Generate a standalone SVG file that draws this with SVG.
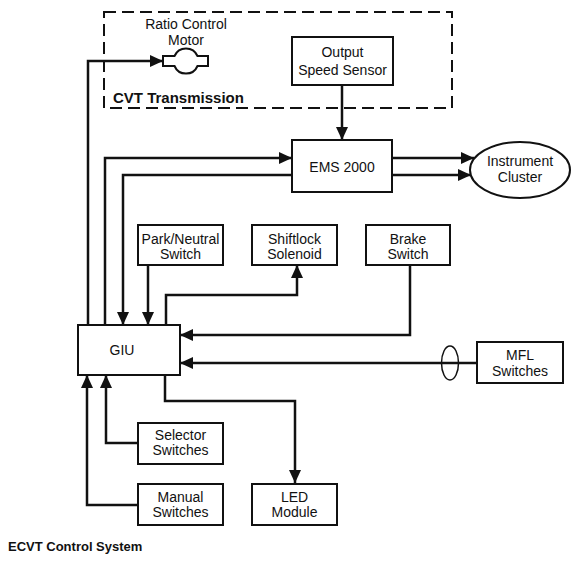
<svg xmlns="http://www.w3.org/2000/svg" width="580" height="563" viewBox="0 0 580 563">
<defs>
<marker id="ah" markerUnits="userSpaceOnUse" markerWidth="13" markerHeight="12" refX="13" refY="6" orient="auto">
<path d="M0,0 L13,6 L0,12 z" fill="#111"/>
</marker>
<style>
.box{fill:#fff;stroke:#111;stroke-width:2}
.t{font-family:"Liberation Sans",Arial,sans-serif;font-size:14px;fill:#111;text-anchor:middle}
.b{font-family:"Liberation Sans",Arial,sans-serif;font-weight:bold;fill:#111}
.c{fill:none;stroke:#111;stroke-width:2.5;stroke-linejoin:miter}
.a{marker-end:url(#ah)}
</style>
</defs>
<rect width="580" height="563" fill="#fff"/>
<g id="cvt-transmission">
<rect x="104" y="12" width="348" height="96" fill="none" stroke="#111" stroke-width="2" stroke-dasharray="12,6"/>
<text class="b" x="113" y="103" font-size="15">CVT Transmission</text>
</g>
<g id="connectors">
<path class="c a" d="M88,325 V61 H163"/>
<path class="c a" d="M105,325 V158 H292"/>
<path class="c a" d="M292,175 H123 V325"/>
<path class="c a" d="M342,85 V140"/>
<path class="c a" d="M392,158 H474"/>
<path class="c a" d="M392,175 H471"/>
<path class="c a" d="M148,265 V325"/>
<path class="c a" d="M166,325 V295 H297 V265"/>
<path class="c a" d="M410,265 V335 H180"/>
<path class="c a" d="M477,363 H180"/>
<ellipse cx="450" cy="363" rx="8.5" ry="17" fill="none" stroke="#111" stroke-width="1.5"/>
<path class="c a" d="M165,375 V401 H295 V483"/>
<path class="c a" d="M138,443 H106 V375"/>
<path class="c a" d="M138,505 H87 V375"/>
</g>
<g id="ratio-control-motor">
<path d="M174.5,56 H163 V66 H174.5 A12.5,12.5 0 0 0 197.5,66 H208 V56 H197.5 A12.5,12.5 0 0 0 174.5,56 Z" fill="#fff" stroke="#111" stroke-width="2"/>
<text class="t" x="186" y="29">Ratio Control</text>
<text class="t" x="186" y="45">Motor</text>
</g>
<g id="output-speed-sensor">
<rect class="box" x="292" y="37" width="101" height="48"/>
<text class="t" x="342.5" y="57">Output</text>
<text class="t" x="342.5" y="75">Speed Sensor</text>
</g>
<g id="ems-2000">
<rect class="box" x="292" y="140" width="100" height="52"/>
<text class="t" x="342" y="172">EMS 2000</text>
</g>
<g id="instrument-cluster">
<ellipse cx="520" cy="170" rx="50" ry="28" fill="#fff" stroke="#111" stroke-width="2"/>
<text class="t" x="520" y="166">Instrument</text>
<text class="t" x="520" y="182">Cluster</text>
</g>
<g id="park-neutral-switch">
<rect class="box" x="138" y="225" width="85" height="40"/>
<text class="t" x="180.5" y="244">Park/Neutral</text>
<text class="t" x="180.5" y="259">Switch</text>
</g>
<g id="shiftlock-solenoid">
<rect class="box" x="252" y="225" width="85" height="40"/>
<text class="t" x="294.5" y="244">Shiftlock</text>
<text class="t" x="294.5" y="259">Solenoid</text>
</g>
<g id="brake-switch">
<rect class="box" x="366" y="225" width="84" height="40"/>
<text class="t" x="408" y="244">Brake</text>
<text class="t" x="408" y="259">Switch</text>
</g>
<g id="giu">
<rect class="box" x="78" y="325" width="102" height="50"/>
<text class="t" x="122" y="355">GIU</text>
</g>
<g id="mfl-switches">
<rect class="box" x="477" y="342" width="86" height="41"/>
<text class="t" x="520" y="360">MFL</text>
<text class="t" x="520" y="376">Switches</text>
</g>
<g id="selector-switches">
<rect class="box" x="138" y="423" width="85" height="41"/>
<text class="t" x="180.5" y="440">Selector</text>
<text class="t" x="180.5" y="455">Switches</text>
</g>
<g id="manual-switches">
<rect class="box" x="138" y="484" width="85" height="41"/>
<text class="t" x="180.5" y="502">Manual</text>
<text class="t" x="180.5" y="517">Switches</text>
</g>
<g id="led-module">
<rect class="box" x="252" y="484" width="85" height="41"/>
<text class="t" x="294.5" y="502">LED</text>
<text class="t" x="294.5" y="517">Module</text>
</g>
<text class="b" x="8" y="551" font-size="13">ECVT Control System</text>
</svg>
